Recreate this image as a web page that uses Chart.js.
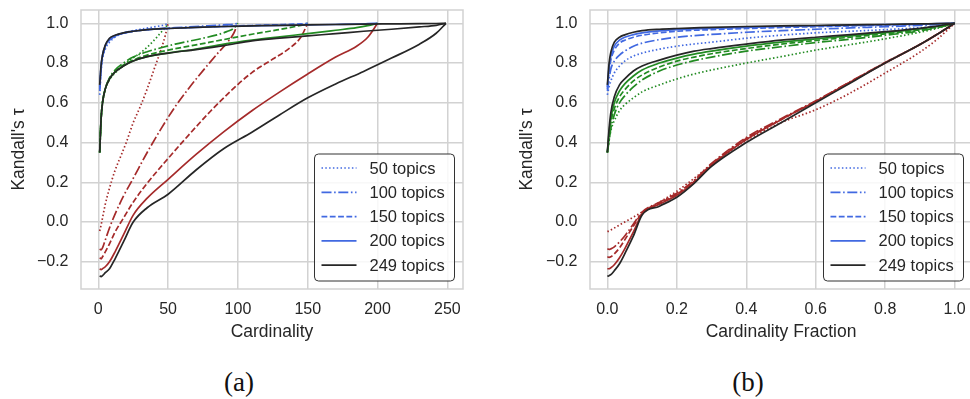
<!DOCTYPE html>
<html>
<head>
<meta charset="utf-8">
<script src="https://cdn.jsdelivr.net/npm/chart.js@4.4.0/dist/chart.umd.min.js"></script>
<style>
  html, body { margin: 0; padding: 0; background: #fff; overflow: hidden; }
  #wrap { position: relative; width: 970px; height: 399px; overflow: hidden; background: #fff; }
  canvas { position: absolute; top: 0; }
  #chartA { left: 0; }
  #chartB { left: 485px; }
  .cap { position: absolute; top: 366px; line-height: 32px; font-family: "Liberation Serif", serif; font-size: 27px; color: #111; transform: translateX(-50%); }
</style>
</head>
<body>
<div id="wrap">
  <canvas id="chartA" width="480" height="347" style="width:480px;height:347px"></canvas>
  <canvas id="chartB" width="505" height="347" style="width:505px;height:347px"></canvas>
  <div class="cap" style="left:239px">(a)</div>
  <div class="cap" style="left:748px">(b)</div>
</div>
<script>
// ---- data ----
const legendLabels = ['50 topics', '100 topics', '150 topics', '200 topics', '249 topics'];

// panel (a): cardinality grids, one per topic count
const cardA50  = [1, 2, 3, 5, 8, 12, 16, 20, 25, 30, 35, 40, 45, 48, 50];
const cardA100 = [1, 2, 3, 5, 8, 12, 18, 25, 35, 45, 55, 65, 75, 85, 92, 97, 100];
const cardA150 = [1, 2, 3, 5, 8, 12, 18, 25, 35, 50, 65, 80, 95, 110, 125, 137, 145, 150];
const cardA200 = [1, 2, 3, 5, 8, 12, 18, 25, 35, 50, 70, 90, 110, 130, 150, 170, 185, 193, 200];
const cardA249 = [1, 2, 3, 5, 8, 12, 18, 25, 35, 50, 70, 90, 110, 130, 150, 170, 190, 210, 230, 242, 249];

const blueA50  = [0.64, 0.76, 0.82, 0.87, 0.905, 0.93, 0.945, 0.955, 0.963, 0.97, 0.976, 0.982, 0.988, 0.993, 1.0];
const blueA100 = [0.66, 0.77, 0.83, 0.88, 0.915, 0.935, 0.95, 0.96, 0.968, 0.974, 0.978, 0.982, 0.986, 0.99, 0.993, 0.996, 1.0];
const blueA150 = [0.67, 0.78, 0.835, 0.885, 0.92, 0.937, 0.951, 0.96, 0.968, 0.974, 0.979, 0.983, 0.986, 0.989, 0.992, 0.995, 0.997, 1.0];
const blueA200 = [0.68, 0.785, 0.838, 0.888, 0.922, 0.938, 0.951, 0.96, 0.968, 0.974, 0.98, 0.984, 0.987, 0.99, 0.992, 0.994, 0.996, 0.998, 1.0];
const blueA249 = [0.69, 0.79, 0.84, 0.89, 0.925, 0.94, 0.952, 0.96, 0.968, 0.974, 0.98, 0.984, 0.987, 0.99, 0.992, 0.994, 0.996, 0.997, 0.998, 0.999, 1.0];

const greenA50  = [0.35, 0.52, 0.6, 0.67, 0.715, 0.75, 0.775, 0.8, 0.826, 0.85, 0.88, 0.915, 0.955, 0.978, 1.0];
const greenA100 = [0.35, 0.52, 0.6, 0.67, 0.725, 0.765, 0.8, 0.83, 0.857, 0.877, 0.895, 0.91, 0.925, 0.942, 0.958, 0.975, 1.0];
const greenA150 = [0.35, 0.52, 0.6, 0.67, 0.72, 0.757, 0.79, 0.815, 0.84, 0.865, 0.885, 0.905, 0.925, 0.945, 0.963, 0.978, 0.99, 1.0];
const greenA200 = [0.35, 0.52, 0.6, 0.67, 0.72, 0.755, 0.785, 0.81, 0.832, 0.85, 0.87, 0.895, 0.915, 0.932, 0.948, 0.965, 0.978, 0.988, 1.0];
const greenA249 = [0.35, 0.52, 0.6, 0.67, 0.72, 0.755, 0.785, 0.81, 0.832, 0.85, 0.868, 0.888, 0.912, 0.925, 0.937, 0.948, 0.96, 0.97, 0.982, 0.99, 1.0];

const redA50  = [-0.045, -0.015, 0.02, 0.09, 0.17, 0.26, 0.33, 0.4, 0.5, 0.58, 0.67, 0.77, 0.87, 0.94, 1.0];
const redA100 = [-0.135, -0.14, -0.13, -0.09, -0.03, 0.04, 0.13, 0.22, 0.35, 0.47, 0.58, 0.675, 0.762, 0.845, 0.9, 0.95, 1.0];
const redA150 = [-0.18, -0.185, -0.175, -0.15, -0.11, -0.05, 0.02, 0.1, 0.195, 0.32, 0.44, 0.555, 0.66, 0.752, 0.82, 0.875, 0.93, 1.0];
const redA200 = [-0.235, -0.24, -0.235, -0.225, -0.2, -0.15, -0.065, 0.035, 0.12, 0.215, 0.34, 0.455, 0.56, 0.655, 0.745, 0.83, 0.885, 0.93, 1.0];
const redA249 = [-0.27, -0.275, -0.27, -0.255, -0.235, -0.185, -0.1, 0.0, 0.072, 0.14, 0.262, 0.37, 0.452, 0.54, 0.625, 0.695, 0.758, 0.825, 0.895, 0.95, 1.0];

// panel (b): one shared fraction grid
const fracB = [0, 0.005, 0.01, 0.02, 0.035, 0.05, 0.075, 0.1, 0.15, 0.2, 0.25, 0.3, 0.4, 0.5, 0.6, 0.7, 0.8, 0.9, 0.95, 1.0];

const blueB50  = [0.64, 0.68, 0.71, 0.75, 0.785, 0.81, 0.835, 0.85, 0.87, 0.885, 0.896, 0.905, 0.925, 0.94, 0.952, 0.96, 0.968, 0.978, 0.985, 1.0];
const blueB100 = [0.66, 0.72, 0.77, 0.81, 0.84, 0.86, 0.885, 0.9, 0.918, 0.93, 0.938, 0.944, 0.955, 0.963, 0.97, 0.977, 0.983, 0.99, 0.994, 1.0];
const blueB150 = [0.67, 0.76, 0.815, 0.865, 0.9, 0.915, 0.93, 0.94, 0.952, 0.96, 0.965, 0.968, 0.974, 0.979, 0.983, 0.987, 0.991, 0.995, 0.997, 1.0];
const blueB200 = [0.68, 0.78, 0.835, 0.885, 0.915, 0.93, 0.943, 0.952, 0.962, 0.968, 0.972, 0.975, 0.98, 0.984, 0.987, 0.99, 0.993, 0.996, 0.998, 1.0];
const blueB249 = [0.69, 0.8, 0.855, 0.905, 0.93, 0.942, 0.955, 0.963, 0.97, 0.974, 0.977, 0.98, 0.984, 0.987, 0.989, 0.992, 0.994, 0.997, 0.998, 1.0];

const greenB50  = [0.35, 0.41, 0.46, 0.51, 0.56, 0.59, 0.625, 0.655, 0.69, 0.72, 0.745, 0.765, 0.8, 0.832, 0.865, 0.893, 0.922, 0.955, 0.975, 1.0];
const greenB100 = [0.35, 0.41, 0.47, 0.54, 0.6, 0.635, 0.68, 0.715, 0.76, 0.79, 0.812, 0.83, 0.86, 0.882, 0.903, 0.92, 0.94, 0.962, 0.978, 1.0];
const greenB150 = [0.35, 0.43, 0.5, 0.57, 0.63, 0.665, 0.71, 0.74, 0.78, 0.81, 0.83, 0.847, 0.873, 0.895, 0.914, 0.93, 0.947, 0.967, 0.981, 1.0];
const greenB200 = [0.35, 0.45, 0.52, 0.6, 0.66, 0.695, 0.735, 0.765, 0.8, 0.825, 0.845, 0.86, 0.885, 0.905, 0.922, 0.937, 0.953, 0.972, 0.984, 1.0];
const greenB249 = [0.35, 0.47, 0.55, 0.63, 0.69, 0.72, 0.76, 0.785, 0.815, 0.84, 0.86, 0.873, 0.895, 0.915, 0.93, 0.943, 0.958, 0.975, 0.986, 1.0];

const redB50  = [-0.048, -0.045, -0.04, -0.03, -0.015, 0.0, 0.025, 0.05, 0.1, 0.155, 0.22, 0.29, 0.41, 0.5, 0.565, 0.65, 0.75, 0.855, 0.92, 1.0];
const redB100 = [-0.135, -0.138, -0.135, -0.125, -0.1, -0.07, -0.01, 0.05, 0.1, 0.145, 0.21, 0.295, 0.425, 0.52, 0.61, 0.707, 0.803, 0.893, 0.945, 1.0];
const redB150 = [-0.175, -0.178, -0.175, -0.16, -0.13, -0.09, -0.02, 0.045, 0.095, 0.14, 0.205, 0.29, 0.42, 0.515, 0.607, 0.705, 0.802, 0.893, 0.945, 1.0];
const redB200 = [-0.235, -0.235, -0.23, -0.215, -0.18, -0.135, -0.05, 0.04, 0.09, 0.135, 0.2, 0.285, 0.415, 0.515, 0.607, 0.705, 0.8, 0.893, 0.945, 1.0];
const redB249 = [-0.273, -0.27, -0.265, -0.245, -0.21, -0.16, -0.07, 0.035, 0.08, 0.125, 0.195, 0.28, 0.4, 0.5, 0.6, 0.7, 0.8, 0.893, 0.945, 1.0];

const yTicks  = [-0.2, 0.0, 0.2, 0.4, 0.6, 0.8, 1.0];
const xTicksA = [0, 50, 100, 150, 200, 250];
const xTicksB = [0.0, 0.2, 0.4, 0.6, 0.8, 1.0];

// ---- styles ----
const groupColors = ['#4169e1', '#228b22', '#a52a2a'];
const allColor = '#262626';
const dashes = [[1.5, 2.3], [10, 2.6, 1.6, 2.6], [5.8, 2.5], [], []];
const gridColor = '#d2d2d2';
const textColor = '#262626';
const fontFam = '"Liberation Sans", Arial, sans-serif';

function buildSets(xsList, groups) {
    const sets = [];
    groups.forEach(function (g, gi) {
        g.forEach(function (ys, i) {
            const xs = xsList[i];
            sets.push({
                data: xs.map(function (x, j) { return {x: x, y: ys[j]}; }),
                borderColor: i === 4 ? allColor : groupColors[gi],
                borderDash: dashes[i],
                borderCapStyle: 'butt',
                borderWidth: 1.7,
                pointRadius: 0,
                cubicInterpolationMode: 'monotone',
                fill: false,
                order: 4 - i
            });
        });
    });
    return sets;
}

function fmt(v) {
    return (v < 0 ? '\u2212' : '') + Math.abs(v).toFixed(1);
}

const framePlugin = {
    id: 'frame',
    beforeDatasetsDraw(chart) {
        const a = chart.chartArea;
        const ctx = chart.ctx;
        ctx.save();
        ctx.strokeStyle = gridColor;
        ctx.lineWidth = 1.5;
        ctx.strokeRect(a.left, a.top, a.right - a.left, a.bottom - a.top);
        ctx.restore();
    }
};

const legendPlugin = {
    id: 'legendBox',
    afterDatasetsDraw(chart) {
        const a = chart.chartArea;
        const ctx = chart.ctx;
        const w = 140, h = 127, r = 4;
        const x0 = a.right - 8.5 - w, y0 = a.bottom - 8 - h;
        ctx.save();
        ctx.beginPath();
        ctx.moveTo(x0 + r, y0);
        ctx.arcTo(x0 + w, y0, x0 + w, y0 + h, r);
        ctx.arcTo(x0 + w, y0 + h, x0, y0 + h, r);
        ctx.arcTo(x0, y0 + h, x0, y0, r);
        ctx.arcTo(x0, y0, x0 + w, y0, r);
        ctx.closePath();
        ctx.fillStyle = 'rgba(255,255,255,0.85)';
        ctx.fill();
        ctx.strokeStyle = '#333';
        ctx.lineWidth = 1;
        ctx.stroke();
        ctx.font = '16.5px ' + fontFam;
        ctx.textBaseline = 'middle';
        ctx.textAlign = 'left';
        legendLabels.forEach(function (lab, i) {
            const y = y0 + 14 + i * 24.3;
            ctx.beginPath();
            ctx.setLineDash(dashes[i]);
            ctx.strokeStyle = i === 4 ? allColor : groupColors[0];
            ctx.lineWidth = 1.7;
            ctx.moveTo(x0 + 7, y);
            ctx.lineTo(x0 + 42, y);
            ctx.stroke();
            ctx.setLineDash([]);
            ctx.fillStyle = textColor;
            ctx.fillText(lab, x0 + 55, y + 1);
        });
        ctx.restore();
    }
};

function makeConfig(p) {
    return {
        type: 'line',
        data: {datasets: p.datasets},
        plugins: [framePlugin, legendPlugin],
        options: {
            responsive: false,
            animation: false,
            devicePixelRatio: 1,
            layout: {padding: {left: 0, top: 10, right: p.padRight, bottom: 0}},
            plugins: {legend: {display: false}, tooltip: {enabled: false}},
            scales: {
                x: {
                    type: 'linear',
                    min: p.xMin,
                    max: p.xMax,
                    afterBuildTicks: function (s) { s.ticks = p.xTicks.map(function (v) { return {value: v}; }); },
                    afterFit: function (s) { s.height = 58; s.paddingLeft = 0; s.paddingRight = 0; },
                    border: {display: false},
                    grid: {color: gridColor, lineWidth: 1.5, drawTicks: false},
                    ticks: {
                        autoSkip: false, maxRotation: 0, padding: 10.5, color: textColor,
                        font: {family: fontFam, size: 16},
                        callback: p.xFmt
                    },
                    title: {
                        display: true, text: p.xTitle, color: textColor,
                        font: {family: fontFam, size: 17.5}, padding: {top: 0, bottom: 4}
                    }
                },
                y: {
                    type: 'linear',
                    min: -0.337,
                    max: 1.067,
                    afterBuildTicks: function (s) { s.ticks = yTicks.map(function (v) { return {value: v}; }); },
                    afterFit: function (s) { s.width = p.yWidth; s.paddingTop = 0; s.paddingBottom = 0; },
                    border: {display: false},
                    grid: {color: gridColor, lineWidth: 1.5, drawTicks: false},
                    ticks: {
                        autoSkip: false, padding: 12.5, color: textColor,
                        font: {family: fontFam, size: 16},
                        callback: fmt
                    },
                    title: {
                        display: true, text: "Kandall's \u03c4", color: textColor,
                        font: {family: fontFam, size: 17.5}, padding: {top: p.yTitlePad, bottom: 0}
                    }
                }
            }
        }
    };
}

const setsA = buildSets(
    [cardA50, cardA100, cardA150, cardA200, cardA249],
    [
        [blueA50, blueA100, blueA150, blueA200, blueA249],
        [greenA50, greenA100, greenA150, greenA200, greenA249],
        [redA50, redA100, redA150, redA200, redA249]
    ]
);
const setsB = buildSets(
    [fracB, fracB, fracB, fracB, fracB],
    [
        [blueB50, blueB100, blueB150, blueB200, blueB249],
        [greenB50, greenB100, greenB150, greenB200, greenB249],
        [redB50, redB100, redB150, redB200, redB249]
    ]
);

new Chart(document.getElementById('chartA'), makeConfig({
    datasets: setsA, xMin: -12.4, xMax: 261.2, xTicks: xTicksA,
    xFmt: function (v) { return String(v); }, xTitle: 'Cardinality',
    yWidth: 81, yTitlePad: 8.5, padRight: 17
}));
new Chart(document.getElementById('chartB'), makeConfig({
    datasets: setsB, xMin: -0.05, xMax: 1.05, xTicks: xTicksB,
    xFmt: function (v) { return v.toFixed(1); }, xTitle: 'Cardinality Fraction',
    yWidth: 105, yTitlePad: 32, padRight: 18
}));
</script>
</body>
</html>
